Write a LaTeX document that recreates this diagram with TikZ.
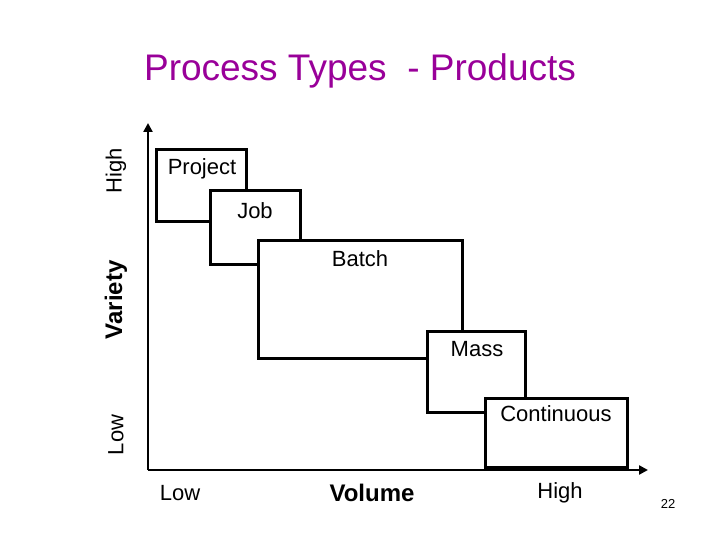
\documentclass[tikz,border=0pt]{standalone}
\usepackage{fontspec}
\setmainfont{Liberation Sans}
\usetikzlibrary{arrows.meta}
\definecolor{ttl}{RGB}{153,0,153}
\begin{document}
\begin{tikzpicture}[x=1pt,y=-1pt,
  box/.style={draw=black,line width=3pt,fill=white},
  lbl/.style={font=\fontsize{22}{24}\selectfont},
  ax/.style={draw=black,line width=2.5pt,-{Triangle[length=9pt,width=9pt]}}]
\useasboundingbox (0,0) rectangle (720,540);
\node[font=\fontsize{37}{40}\selectfont,text=ttl] (title) at (360,71) {Process Types\ \ - Products};
\coordinate (o) at (148,470);
\coordinate (ytop) at (148,123);
\coordinate (xend) at (648,470);
\draw[ax] (o) -- (ytop);
\draw[ax] (o) -- (xend);
\draw[box] (156,150) rectangle (246,222);
\draw[box] (210,191) rectangle (300,264);
\draw[box] (258,240) rectangle (462,358);
\draw[box] (427,331) rectangle (525,412);
\draw[box] (485,398) rectangle (627,467);
\node[lbl] (project) at (202,169) {Project};
\node[lbl] (job) at (255,211) {Job};
\node[lbl] (batch) at (360,259) {Batch};
\node[lbl] (mass) at (477,349) {Mass};
\node[lbl] (cont) at (556,414) {Continuous};
\node[lbl,rotate=90] (yhigh) at (116,171) {High};
\node[lbl,rotate=90,font=\bfseries\fontsize{24}{26}\selectfont] (var) at (116,300) {Variety};
\node[lbl,rotate=90] (ylow) at (116,435) {Low};
\node[lbl] (xlow) at (180,493) {Low};
\node[lbl,font=\bfseries\fontsize{24}{26}\selectfont] (vol) at (372,493) {Volume};
\node[lbl] (xhigh) at (560,493) {High};
\node[font=\fontsize{13}{14}\selectfont] (num) at (668,504) {22};
\end{tikzpicture}
\end{document}
